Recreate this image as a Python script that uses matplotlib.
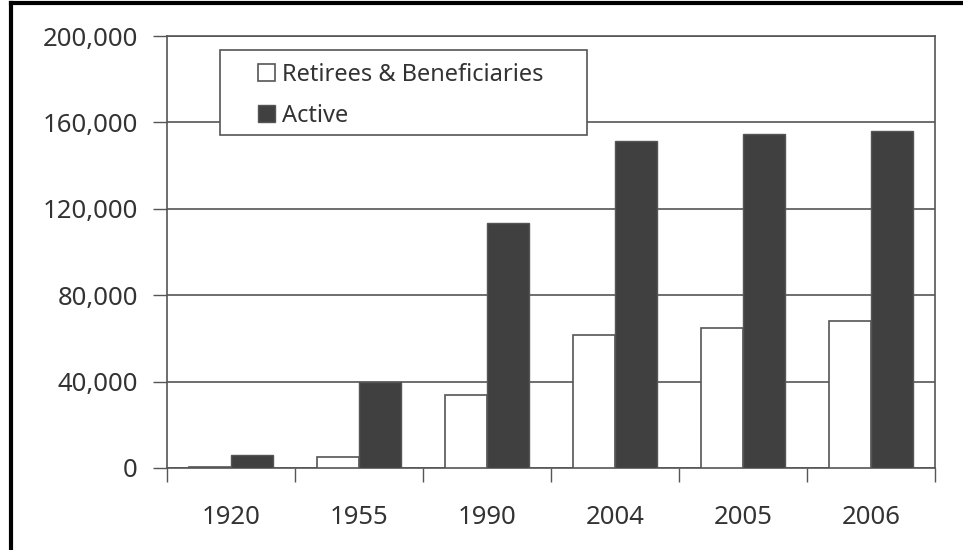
import matplotlib
matplotlib.use("Agg")
import matplotlib.pyplot as plt
import numpy as np
from matplotlib.lines import Line2D
from matplotlib.patches import Rectangle

plt.rcParams['font.family'] = ['Noto Sans', 'DejaVu Sans']

years = ["1920", "1955", "1990", "2004", "2005", "2006"]
retirees = [600, 5000, 33700, 61400, 65000, 68000]
active = [6200, 39800, 113300, 151500, 154500, 156200]
y_ticks = [0, 40000, 80000, 120000, 160000, 200000]

line_col = '#555555'
dark = '#404040'
text_col = '#333333'

fig = plt.figure(figsize=(9.63, 5.5), dpi=100)
ax = fig.add_axes([0.1734, 0.1491, 0.7975, 0.7854])

x = np.arange(len(years))
w = 0.326
b1 = ax.bar(x - w / 2, retirees, w, color='white', edgecolor=line_col, linewidth=1.2,
            label='Retirees & Beneficiaries', zorder=3)
b2 = ax.bar(x + w / 2, active, w, color=dark, edgecolor=line_col, linewidth=1.0,
            label='Active', zorder=3)

ax.set_xlim(-0.5, len(years) - 0.5)
ax.set_ylim(0, 200000)
ax.set_yticks(y_ticks)
ax.set_yticklabels([f"{v:,}" for v in y_ticks])
ax.yaxis.grid(True, color=line_col, linewidth=1.2, zorder=0)
ax.set_axisbelow(True)

ax.set_xticks(np.arange(-0.5, len(years), 1.0))
ax.set_xticklabels([])
ax.set_xticks(x, minor=True)
ax.set_xticklabels(years, minor=True)
ax.tick_params(axis='x', which='major', length=10, width=1.0, color=line_col, direction='out')
ax.tick_params(axis='x', which='minor', length=0, pad=27, labelsize=18.5, labelcolor=text_col)
ax.tick_params(axis='y', length=10, width=1.0, color=line_col, direction='out',
               pad=11, labelsize=18.5, labelcolor=text_col)

for s in ax.spines.values():
    s.set_color(line_col)
    s.set_linewidth(1.2)

# legend frame drawn separately, legend content placed inside
frame = Rectangle((220 / 963, 1 - 135 / 550), (587 - 220) / 963, 85 / 550,
                  transform=fig.transFigure, facecolor='white', edgecolor=line_col,
                  linewidth=1.2, zorder=4)
fig.add_artist(frame)
leg = fig.legend(handles=[b1, b2], labels=['Retirees & Beneficiaries', 'Active'],
                 loc='upper left', bbox_to_anchor=(258 / 963, 1 - 63 / 550),
                 bbox_transform=fig.transFigure, fontsize=17, frameon=False,
                 handlelength=0.72, handleheight=0.72, handletextpad=0.3, borderpad=0,
                 labelspacing=0.72, borderaxespad=0)
leg.set_zorder(6)
for t in leg.get_texts():
    t.set_color(text_col)

# figure border (top and left)
fig.add_artist(Line2D([10.5 / 963, 1], [1 - 3 / 550, 1 - 3 / 550], color='black', linewidth=3,
                      transform=fig.transFigure))
fig.add_artist(Line2D([10.5 / 963, 10.5 / 963], [0, 1 - 3 / 550], color='black', linewidth=3,
                      transform=fig.transFigure))

fig.savefig('out.png', dpi=100)
